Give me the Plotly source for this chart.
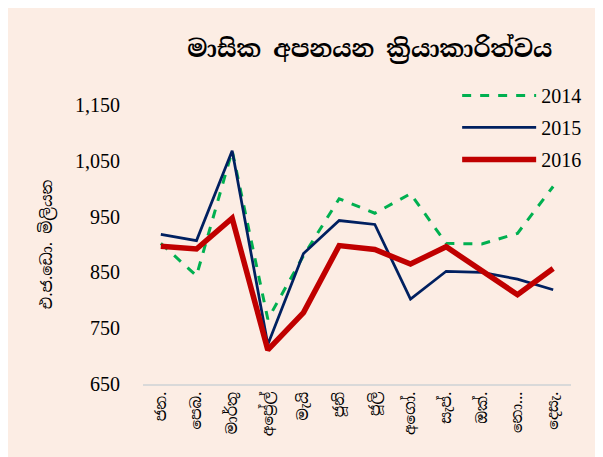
import plotly.graph_objects as go

months = ["ජන.", "පෙබ.", "මාර්තු", "අප්‍රේල්", "මැයි", "ජූනි", "ජූලි", "අගෝ.", "සැප්.", "ඔක්.", "නො...", "දෙසැ."]
y2014 = [902, 844, 1068, 766, 880, 982, 956, 991, 902, 901, 920, 1004]
y2015 = [918, 907, 1068, 721, 884, 943, 936, 802, 852, 850, 838, 819]
y2016 = [897, 892, 947, 711, 778, 898, 891, 865, 896, 853, 810, 857]
yticks = [650, 750, 850, 950, 1050, 1150]

serif = "Palatino Linotype, Book Antiqua, Liberation Serif, DejaVu Serif, serif"
sinh = "Noto Serif Sinhala, Noto Sans Sinhala, Iskoola Pota, sans-serif"

fig = go.Figure()
fig.add_trace(go.Scatter(x=months, y=y2014, mode="lines", name="2014", legendgroup="a",
                         line=dict(color="#00B050", width=3, dash="dash")))
fig.add_trace(go.Scatter(x=months, y=y2015, mode="lines", name="2015", legendgroup="b",
                         line=dict(color="#002060", width=2.75)))
fig.add_trace(go.Scatter(x=months, y=y2016, mode="lines", name="2016", legendgroup="c",
                         line=dict(color="#C00000", width=5.5)))

bg = "#FCEDE4"
fig.update_layout(
    width=603, height=457,
    paper_bgcolor=bg, plot_bgcolor=bg,
    margin=dict(l=135, r=40, t=97, b=81),
    title=dict(text="<b>මාසික අපනයන ක්‍රියාකාරිත්වය</b>", x=0.600, xanchor="center",
               y=0.912, yanchor="middle", font=dict(family=sinh, size=24, color="#000")),
    showlegend=True,
    legend=dict(x=0.734, y=1.104, xanchor="left", yanchor="top", bgcolor="rgba(0,0,0,0)",
                font=dict(family=serif, size=20, color="#000"), tracegroupgap=3,
                itemwidth=74),
)
fig.update_xaxes(type="category", range=[-0.5, 11.5], tickangle=-90, showgrid=False, showline=True,
                 linecolor="#D9D9D9", linewidth=1.5, ticks="",
                 tickfont=dict(family=sinh, size=15, color="#000"))
fig.update_yaxes(range=[650, 1150], tickvals=yticks, tickformat=",", showgrid=False,
                 zeroline=False, ticks="", ticklabelstandoff=22,
                 tickfont=dict(family=serif, size=20, color="#000"),
                 title=dict(text="\u00a0\u00a0\u00a0\u00a0\u00a0එ.ජ.ඩො. මිලියන",
                            font=dict(family=sinh, size=16, color="#000"),
                            standoff=18))

fig.write_html("out.html")
